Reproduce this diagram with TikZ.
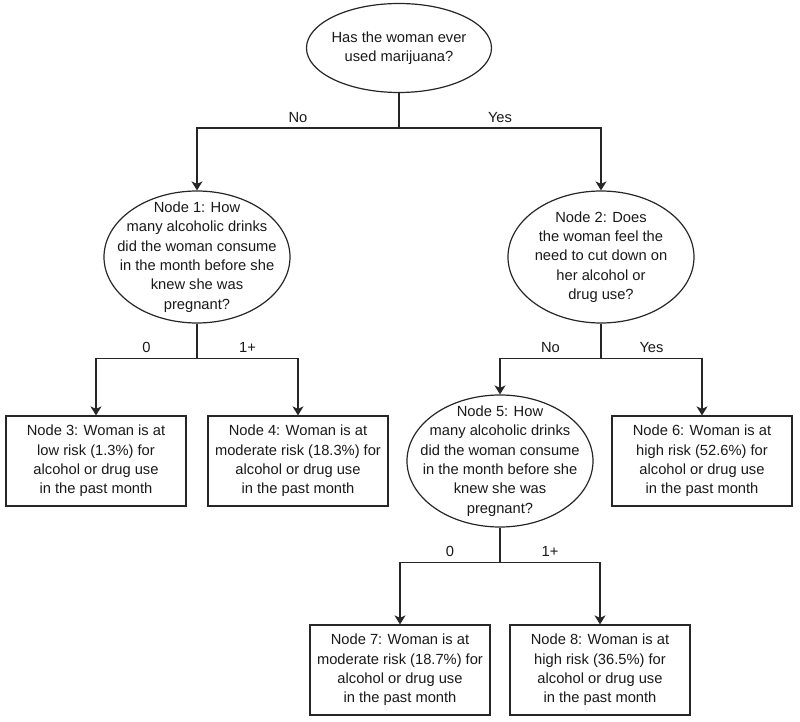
\documentclass[tikz,border=0pt]{standalone}
\usepackage{fontspec}
\setmainfont{Liberation Sans}
\usetikzlibrary{shapes.geometric,arrows.meta}

\begin{document}
\begin{tikzpicture}[x=1pt,y=1pt,line width=1.2pt,
    edge from parent path={(\tikzparentnode.south) -- ++(0,-35pt) -| (\tikzchildnode.north)}]
            \tikzstyle{every node}=[font=\fontsize{14.7}{19.3}\selectfont,align=center,text=black!90]
            \tikzstyle{root}=[ellipse,draw=black!85,inner xsep=-12pt,inner ysep=0pt,minimum width=185pt,minimum height=89pt]
            \tikzstyle{question}=[ellipse,draw=black!85,inner xsep=-32pt,inner ysep=-20pt,minimum width=186pt,minimum height=132pt]
            \tikzstyle{outcome}=[rectangle,draw=black!85,inner sep=0pt,minimum width=180pt,minimum height=90pt]
            \tikzstyle{branch}=[above,pos=0.25,yshift=2pt,draw=none]
            \tikzstyle{edge from parent}=[draw=black!85,-{Stealth[length=9pt,width=11pt,inset=2.5pt]}]
            \tikzstyle{level 1}=[level distance=209pt,sibling distance=404pt]
            \tikzstyle{level 2}=[level distance=204pt,sibling distance=202pt]
            \tikzstyle{level 3}=[level distance=209pt,sibling distance=200pt]
            \useasboundingbox (-399,48) rectangle (401,-674);
            \node[root] (root) {Has the woman ever\\used marijuana?}
                child {node[question] (n1) {Node 1: How\\many alcoholic drinks\\did the woman consume\\in the month before she\\knew she was\\pregnant?}
                    child {node[outcome] (n3) {Node 3: Woman is at\\low risk (1.3\%) for\\alcohol or drug use\\in the past month}
                        edge from parent node[branch] {0}
                    }
                    child {node[outcome] (n4) {Node 4: Woman is at\\moderate risk (18.3\%) for\\alcohol or drug use\\in the past month}
                        edge from parent node[branch] {1+}
                    }
                    edge from parent node[branch] {No}
                }
                child {node[question] (n2) {Node 2: Does\\the woman feel the\\need to cut down on\\her alcohol or\\drug use?}
                    child {node[question] (n5) {Node 5: How\\many alcoholic drinks\\did the woman consume\\in the month before she\\knew she was\\pregnant?}
                        child {node[outcome] (n7) {Node 7: Woman is at\\moderate risk (18.7\%) for\\alcohol or drug use\\in the past month}
                            edge from parent node[branch] {0}
                        }
                        child {node[outcome] (n8) {Node 8: Woman is at\\high risk (36.5\%) for\\alcohol or drug use\\in the past month}
                            edge from parent node[branch] {1+}
                        }
                        edge from parent node[branch] {No}
                    }
                    child {node[outcome] (n6) {Node 6: Woman is at\\high risk (52.6\%) for\\alcohol or drug use\\in the past month}
                        edge from parent node[branch] {Yes}
                    }
                    edge from parent node[branch] {Yes}
                };
            \end{tikzpicture}
\end{document}
